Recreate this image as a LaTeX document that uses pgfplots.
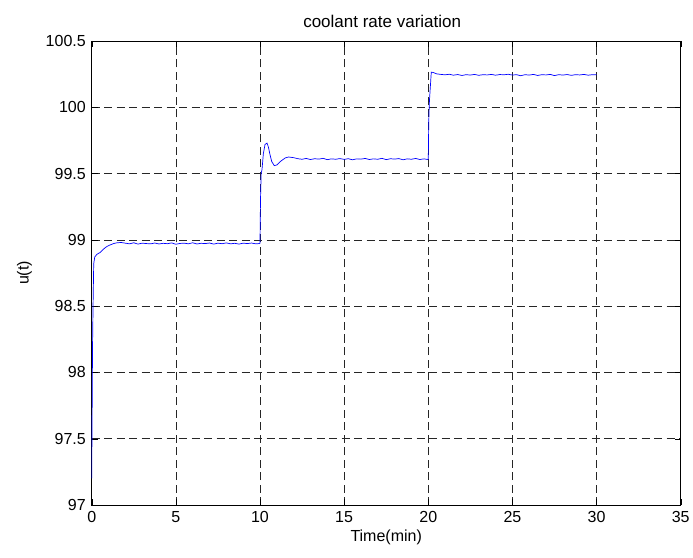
\documentclass[border=0pt]{standalone}
\usepackage{fontspec}
\setmainfont{Liberation Sans}
\usepackage{pgfplots}
\pgfplotsset{compat=1.18}
\begin{document}
\begin{tikzpicture}[x=1pt,y=1pt]
\useasboundingbox (-91.7,-52) rectangle (601.3,505);
\begin{axis}[
  at={(0,0)}, anchor=south west,
  scale only axis, width=589pt, height=464pt,
  xmin=0, xmax=35, ymin=97, ymax=100.5,
  xtick={0,5,...,35}, ytick={97,97.5,...,100.5},
  yticklabels={97,97.5,98,98.5,99,99.5,100,100.5},
  grid=major,
  major grid style={black!85, dash pattern=on 8pt off 4.5pt, line width=0.6pt},
  tick align=inside, tick pos=both,
  major tick length=6pt,
  axis line style={black, line width=0.7pt},
  tick style={black},
  /pgf/number format/assume math mode=true,
  ticklabel style={font=\fontsize{16}{19}\selectfont},
  yticklabel style={xshift=-2.4pt},
  xticklabel style={yshift=-2.7pt},
  label style={font=\fontsize{16}{19}\selectfont},
  title style={font=\fontsize{17}{20}\selectfont, yshift=4pt, xshift=-4pt},
  ylabel style={yshift=7pt},
  title={coolant rate variation},
  xlabel={Time(min)}, ylabel={u(t)},
]
\addplot[color={rgb,255:red,0;green,0;blue,255}, line width=0.7pt] coordinates {
(0,97.2) (0.02,97.6) (0.05,98.2) (0.08,98.5) (0.12,98.82) (0.18,98.87) (0.3,98.89) (0.5,98.905) (0.7,98.93) (0.9,98.95) (1.1,98.962) (1.3,98.972) (1.5,98.978) (1.75,98.98)
(2,98.975) (2.25,98.97) (2.5,98.978) (2.75,98.968) (3,98.975) (3.25,98.972) (3.5,98.97) (3.75,98.976) (4,98.969) (4.25,98.974) (4.5,98.971) (4.75,98.977) (5,98.967) (5.25,98.973) (5.5,98.975) (5.75,98.97) (6,98.978) (6.25,98.969) (6.5,98.974) (6.75,98.972) (7,98.976) (7.25,98.968) (7.5,98.975) (7.75,98.971) (8,98.977) (8.25,98.97) (8.5,98.974) (8.75,98.968) (9,98.975) (9.25,98.972) (9.5,98.976) (9.75,98.97) (9.95,98.972)
(10,98.975) (10.03,99.3) (10.07,99.5) (10.12,99.53) (10.2,99.65) (10.3,99.72) (10.42,99.73) (10.5,99.70) (10.6,99.64) (10.7,99.59) (10.85,99.56) (11.0,99.565) (11.2,99.59) (11.5,99.618) (11.7,99.625) (12,99.62)
(12.25,99.612) (12.5,99.608) (12.75,99.614) (13,99.606) (13.25,99.612) (13.5,99.609) (13.75,99.615) (14,99.605) (14.25,99.611) (14.5,99.608) (14.75,99.613) (15,99.607) (15.25,99.612) (15.5,99.604) (15.75,99.611) (16,99.609) (16.25,99.614) (16.5,99.606) (16.75,99.611) (17,99.608) (17.25,99.615) (17.5,99.605) (17.75,99.612) (18,99.609) (18.25,99.613) (18.5,99.604) (18.75,99.611) (19,99.608) (19.25,99.614) (19.5,99.606) (19.75,99.611) (19.95,99.606)
(20,99.61) (20.03,99.9) (20.07,100.05) (20.12,100.15) (20.18,100.265) (20.3,100.262) (20.5,100.252) (20.75,100.248)
(21,100.245) (21.25,100.249) (21.5,100.242) (21.75,100.247) (22,100.24) (22.25,100.246) (22.5,100.243) (22.75,100.248) (23,100.241) (23.25,100.246) (23.5,100.244) (23.75,100.248) (24,100.242) (24.25,100.247) (24.5,100.245) (24.75,100.249) (25,100.243) (25.25,100.246) (25.5,100.238) (25.75,100.246) (26,100.243) (26.25,100.248) (26.5,100.24) (26.75,100.246) (27,100.244) (27.25,100.248) (27.5,100.239) (27.75,100.246) (28,100.243) (28.25,100.247) (28.5,100.241) (28.75,100.246) (29,100.244) (29.25,100.248) (29.5,100.242) (29.75,100.246) (30,100.245)
};
\end{axis}
\end{tikzpicture}
\end{document}
